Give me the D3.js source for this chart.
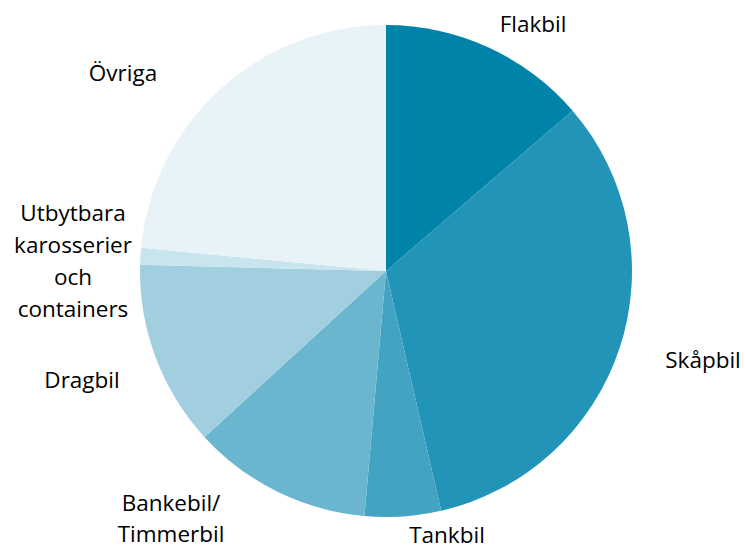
<!DOCTYPE html>
<html><head><meta charset="utf-8">
<script src="https://cdn.jsdelivr.net/npm/d3@7"></script>
<style>body{margin:0;background:#fff}svg{display:block}</style>
</head><body>
<svg id="c" width="745" height="551"></svg>
<script>
const categories = ["Flakbil","Skåpbil","Tankbil","Bankebil/Timmerbil","Dragbil","Utbytbara karosserier och containers","Övriga"];
const values = [13.7, 32.7, 5.0, 11.8, 12.2, 1.1, 23.5];
const labelLines = [["Flakbil"],["Skåpbil"],["Tankbil"],["Bankebil/","Timmerbil"],["Dragbil"],["Utbytbara","karosserier","och","containers"],["Övriga"]];
const colors = ["#0083A9","#2294B7","#43A3C2","#6AB6CE","#A1CFDF","#C8E4ED","#E7F3F6"];
// label offsets from pie centre (layout only)
const labelOffsets = [[147,-247],[317,89],[61,264],[-215,248],[-304,109],[-313,-10],[-263,-198]];

const svg = d3.select("#c");
const cx = 386, cy = 271, r = 246;
const g = svg.append("g").attr("transform",`translate(${cx},${cy})`);
const pie = d3.pie().sort(null).value(d=>d)(values);
const arc = d3.arc().innerRadius(0).outerRadius(r);
g.selectAll("path").data(pie).join("path")
  .attr("d",arc).attr("fill",(d,i)=>colors[i]);
const lh = 32;
pie.forEach((d,i)=>{
  const lines = labelLines[i];
  const [ox,oy] = labelOffsets[i];
  const t = g.append("text").attr("text-anchor","middle")
    .attr("font-family","Open Sans, sans-serif").attr("font-size",22.5).attr("fill","#000");
  lines.forEach((ln,j)=>{
    t.append("tspan").attr("x",ox).attr("y",oy + (j-(lines.length-1)/2)*(i===3?31:lh)).attr("dy","0.35em").text(ln);
  });
});
</script>
</body></html>
